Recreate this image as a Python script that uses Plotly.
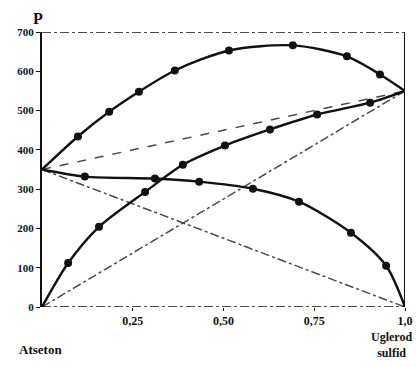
import plotly.graph_objects as go

# mole fraction of carbon disulfide and pressures
x_total = [0.0, 0.099, 0.185, 0.267, 0.366, 0.515, 0.691, 0.840, 0.931, 1.0]
p_total = [350, 434, 497, 548, 602, 653, 666, 638, 592, 550]

x_cs2 = [0.0, 0.072, 0.157, 0.284, 0.388, 0.504, 0.628, 0.758, 0.904, 1.0]
p_cs2 = [0, 112, 204, 293, 362, 411, 452, 490, 520, 550]

x_acet = [0.0, 0.118, 0.311, 0.433, 0.581, 0.708, 0.851, 0.948, 1.0]
p_acet = [350, 332, 327, 319, 301, 268, 189, 105, 0]

# ideal (Raoult) straight lines
x_ideal = [0.0, 1.0]
p_ideal_total = [350, 550]
p_ideal_acet = [350, 0]
p_ideal_cs2 = [0, 550]

x_tickvals = [0.25, 0.5, 0.75, 1.0]
x_ticktext = ["0,25", "0,50", "0,75", "1,0"]
y_tickvals = [0, 100, 200, 300, 400, 500, 600, 700]

FONT = "Liberation Serif"
INK = "#111111"
GREY = "#4a4a4a"

fig = go.Figure()

# ideal lines
fig.add_trace(go.Scatter(x=x_ideal, y=p_ideal_total, mode="lines",
                         line=dict(color=GREY, width=1.5, dash="dash")))
fig.add_trace(go.Scatter(x=x_ideal, y=p_ideal_acet, mode="lines",
                         line=dict(color=GREY, width=1.5, dash="dashdot")))
fig.add_trace(go.Scatter(x=x_ideal, y=p_ideal_cs2, mode="lines",
                         line=dict(color=GREY, width=1.5, dash="dashdot")))

# measured curves: smooth line through all points, markers on the inner ones
for xs, ys in [(x_total, p_total), (x_cs2, p_cs2), (x_acet, p_acet)]:
    fig.add_trace(go.Scatter(x=xs, y=ys, mode="lines",
                             line=dict(color=INK, width=2.4, shape="spline", smoothing=0.8)))
    fig.add_trace(go.Scatter(x=xs[1:-1], y=ys[1:-1], mode="markers",
                             marker=dict(color=INK, size=8)))

# frame: dash-dot top and bottom, solid right side
fig.add_shape(type="line", xref="x", yref="y", x0=0, x1=1, y0=700, y1=700,
              line=dict(color=INK, width=1.3, dash="dashdot"))
fig.add_shape(type="line", xref="x", yref="y", x0=0, x1=1, y0=0, y1=0,
              line=dict(color=INK, width=1.3, dash="dashdot"))
fig.add_shape(type="line", xref="x", yref="y", x0=1, x1=1, y0=0, y1=700,
              line=dict(color=INK, width=2))

fig.add_annotation(text="P", xref="paper", yref="paper", x=0, y=1,
                   xanchor="center", yanchor="bottom", yshift=3, xshift=-4,
                   showarrow=False, font=dict(family=FONT, size=16, color=INK, weight=700))
fig.add_annotation(text="Atseton", xref="paper", yref="paper", x=0, y=0,
                   xanchor="center", yanchor="top", yshift=-33, xshift=-2,
                   showarrow=False, font=dict(family=FONT, size=13, color=INK, weight=700))
fig.add_annotation(text="Uglerod<br>sulfid", xref="paper", yref="paper", x=1, y=0,
                   xanchor="right", yanchor="top", yshift=-21, xshift=9,
                   showarrow=False, font=dict(family=FONT, size=12, color=INK, weight=700))

fig.update_xaxes(range=[0, 1], tickvals=x_tickvals, ticktext=x_ticktext,
                 ticks="outside", ticklen=3, tickcolor=INK, showgrid=False,
                 zeroline=False, showline=False, automargin=False,
                 tickfont=dict(family=FONT, size=12, color=INK, weight=700))
fig.update_yaxes(range=[0, 700], tickvals=y_tickvals,
                 ticks="outside", ticklen=4, tickcolor=INK, showgrid=False,
                 zeroline=False, showline=True, linecolor=INK, linewidth=2,
                 automargin=False,
                 tickfont=dict(family=FONT, size=11, color=INK, weight=700))

fig.update_layout(width=416, height=367, showlegend=False,
                  margin=dict(l=42, r=11, t=32, b=60),
                  paper_bgcolor="white", plot_bgcolor="white")

# drop the browser's default body margin so the figure fills the window
fig.write_html("out.html", config={"displayModeBar": False},
               post_script="document.body.style.margin='0';")
